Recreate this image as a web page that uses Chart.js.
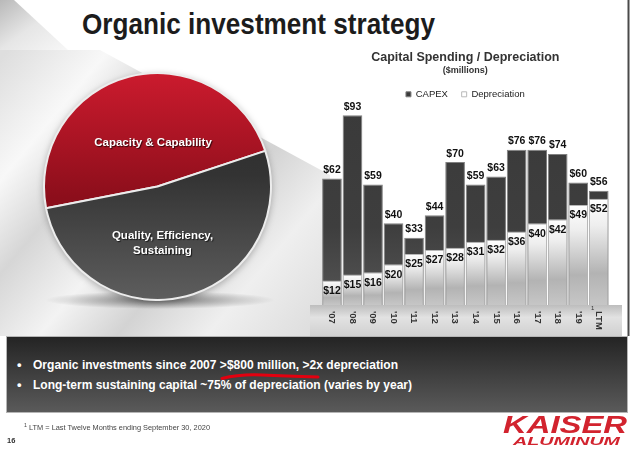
<!DOCTYPE html>
<html><head><meta charset="utf-8">
<script src="https://cdn.jsdelivr.net/npm/chart.js@4.4.1/dist/chart.umd.min.js"></script>
<style>
html,body{margin:0;padding:0;}
body{width:640px;height:454px;position:relative;overflow:hidden;background:#fff;font-family:"Liberation Sans",Arial,sans-serif;}
.abs{position:absolute;white-space:nowrap;}
.fit{display:inline-block;transform-origin:left top;}
</style></head><body>
<svg class="abs" style="left:0;top:0" width="640" height="454">
  <defs>
    <linearGradient id="corner" x1="0" y1="0" x2="1" y2="1">
      <stop offset="0" stop-color="#b9b9b9"/><stop offset="0.5" stop-color="#e6e6e6"/><stop offset="1" stop-color="#f7f7f7"/>
    </linearGradient>
    <linearGradient id="ribbon" gradientUnits="userSpaceOnUse" x1="0" y1="60" x2="330" y2="335">
      <stop offset="0" stop-color="#dedede"/><stop offset="0.18" stop-color="#f8f8f8"/><stop offset="0.32" stop-color="#d6d6d6"/>
      <stop offset="0.48" stop-color="#f3f3f3"/><stop offset="0.62" stop-color="#d3d3d3"/><stop offset="0.78" stop-color="#efefef"/><stop offset="1" stop-color="#dadada"/>
    </linearGradient>
    <radialGradient id="pieShadow" cx="0.5" cy="0.5" r="0.5">
      <stop offset="0" stop-color="rgba(0,0,0,0.45)"/><stop offset="1" stop-color="rgba(0,0,0,0)"/>
    </radialGradient>
    <linearGradient id="floor" x1="0" y1="0" x2="0" y2="1">
      <stop offset="0" stop-color="#bdbdbd"/><stop offset="0.4" stop-color="#e2e2e2"/><stop offset="1" stop-color="#d0d0d0"/>
    </linearGradient>
  </defs>
  <polygon points="0,0 14,0 68,50 0,50" fill="url(#corner)"/>
  <polygon points="0,50 100,50 330,175 330,336 0,336" fill="url(#ribbon)"/>
  <rect x="310" y="305" width="312" height="31" fill="url(#floor)"/>
  <ellipse cx="160" cy="300" rx="115" ry="9" fill="url(#pieShadow)"/>
  <line x1="628.5" y1="0" x2="628.5" y2="336" stroke="#4a4a4a" stroke-width="2"/>
  <rect x="6.5" y="336.5" width="621" height="76" fill="#3a3a3a" stroke="#b5b5b5"/>
</svg>
<div class="abs" style="left:6px;top:336px;width:622px;height:77px;background:linear-gradient(#242424,#5a5a5a);border:1px solid #b5b5b5;box-sizing:border-box"></div>

<div class="abs" style="left:82px;top:9px;font-size:30px;line-height:30px;font-weight:bold;color:#1c1c1c"><span class="fit" data-w="353">Organic investment strategy</span></div>

<canvas id="pie" class="abs" width="229" height="229" style="left:43px;top:72px;filter:drop-shadow(0 2px 3px rgba(0,0,0,0.25))"></canvas>
<canvas id="bars" class="abs" width="328" height="300" style="left:312px;top:40px"></canvas>

<div class="abs" style="left:17px;top:357px;font-size:13px;line-height:16px;color:#fff;font-weight:bold">•</div>
<div class="abs" style="left:33px;top:357px;font-size:13px;line-height:16px;color:#fff;font-weight:bold"><span class="fit" data-w="365">Organic investments since 2007 &gt;$800 million, &gt;2x depreciation</span></div>
<div class="abs" style="left:17px;top:377px;font-size:13px;line-height:16px;color:#fff;font-weight:bold">•</div>
<div class="abs" style="left:33px;top:377px;font-size:13px;line-height:16px;color:#fff;font-weight:bold"><span class="fit" data-w="379">Long-term sustaining capital ~75% of depreciation (varies by year)</span></div>
<svg class="abs" style="left:0;top:0" width="640" height="454"><path d="M222,378.5 Q240,374 262,375 T318,377" fill="none" stroke="#e3000f" stroke-width="3" stroke-linecap="round"/></svg>

<div class="abs" style="left:24px;top:421px;font-size:7px;line-height:8px;color:#444"><span class="fit" data-w="186"><sup style="font-size:5px">1</sup> LTM = Last Twelve Months ending September 30, 2020</span></div>
<div class="abs" style="left:7px;top:437px;font-size:7.5px;line-height:8px;color:#333;font-weight:bold">16</div>

<div class="abs" style="left:503px;top:413px;font-size:24px;line-height:24px;color:#d2232e;font-weight:bold;font-style:italic"><span class="fit" data-w="124">KAISER</span></div>
<div class="abs" style="left:513px;top:437px;font-size:10px;line-height:10px;color:#d2232e;font-weight:bold;font-style:italic"><span class="fit" data-w="107">ALUMINUM</span></div>

<script>
// ---- data ----
const pieLabels = ['Capacity & Capability', 'Quality, Efficiency, Sustaining'];
const pieValues = [48, 52];
const years = ["'07", "'08", "'09", "'10", "'11", "'12", "'13", "'14", "'15", "'16", "'17", "'18", "'19", "LTM"];
const capex = [62, 93, 59, 40, 33, 44, 70, 59, 63, 76, 76, 74, 60, 56];
const depreciation = [12, 15, 16, 20, 25, 27, 28, 31, 32, 36, 40, 42, 49, 52];
const seriesNames = ['CAPEX', 'Depreciation'];

document.querySelectorAll('.fit').forEach(el => {
  const w = +el.dataset.w;
  const r = w / el.getBoundingClientRect().width;
  el.style.transform = 'scaleX(' + r + ')';
});

const FONT = '"Liberation Sans", Arial, sans-serif';

// ---- pie ----
function pieFill(c) {
  const ch = c.chart, a = ch.chartArea;
  if (!a) return c.dataIndex === 0 ? '#b0182a' : '#444';
  const g = ch.ctx.createLinearGradient(0, a.top, 0, a.bottom);
  if (c.dataIndex === 0) {
    g.addColorStop(0, '#cc1b2e'); g.addColorStop(0.55, '#8c0e1b'); g.addColorStop(1, '#7a0c17');
  } else {
    g.addColorStop(0, '#2a2a2a'); g.addColorStop(0.45, '#333333'); g.addColorStop(1, '#5e5e5e');
  }
  return g;
}
const pieText = {
  id: 'pieText',
  afterDatasetsDraw(chart) {
    const arc = chart.getDatasetMeta(0).data[0];
    const ctx = chart.ctx;
    ctx.save();
    ctx.font = 'bold 11.5px ' + FONT;
    ctx.fillStyle = '#fff';
    ctx.textAlign = 'center';
    ctx.textBaseline = 'middle';
    ctx.shadowColor = 'rgba(0,0,0,0.7)';
    ctx.shadowOffsetX = 1; ctx.shadowOffsetY = 1; ctx.shadowBlur = 1;
    ctx.fillText(pieLabels[0], arc.x - 4.5, arc.y - 44);
    ctx.fillText('Quality, Efficiency,', arc.x + 5, arc.y + 49);
    ctx.fillText('Sustaining', arc.x + 5, arc.y + 64);
    ctx.restore();
  }
};
new Chart(document.getElementById('pie'), {
  type: 'pie',
  data: { labels: pieLabels, datasets: [{ data: pieValues, backgroundColor: pieFill, borderColor: '#ececec', borderWidth: 2 }] },
  options: {
    responsive: false, animation: false, devicePixelRatio: 1,
    rotation: 258.9,
    layout: { padding: 0 },
    plugins: { legend: { display: false }, tooltip: { enabled: false } }
  },
  plugins: [pieText]
});

// ---- bars ----
function capexFill(c) {
  if (c.type !== 'data') return '#3c3c3c';
  const ch = c.chart, a = ch.chartArea;
  if (!a) return '#3c3c3c';
  const g = ch.ctx.createLinearGradient(0, a.top, 0, a.bottom);
  g.addColorStop(0, '#3a3a3a'); g.addColorStop(0.6, '#3e3e3e'); g.addColorStop(1, '#555555');
  return g;
}
function depFill(c) {
  if (c.type !== 'data') return '#d0d0d0';
  const ch = c.chart;
  if (!ch.chartArea) return '#d0d0d0';
  const y = ch.scales.y;
  const top = y.getPixelForValue(c.raw), base = y.getPixelForValue(0);
  const g = ch.ctx.createLinearGradient(0, top, 0, base + 0.01);
  g.addColorStop(0, '#ffffff'); g.addColorStop(0.25, '#eeeeee'); g.addColorStop(0.7, '#b3b3b3'); g.addColorStop(1, '#c6c6c6');
  return g;
}
const barText = {
  id: 'barText',
  afterDatasetsDraw(chart) {
    const ctx = chart.ctx;
    const mc = chart.getDatasetMeta(0), md = chart.getDatasetMeta(1);
    ctx.save();
    ctx.font = 'bold 10.5px ' + FONT;
    ctx.fillStyle = '#111';
    ctx.textAlign = 'center';
    ctx.textBaseline = 'middle';
    mc.data.forEach((b, i) => ctx.fillText('$' + capex[i], b.x, b.y - 8.5));
    md.data.forEach((b, i) => ctx.fillText('$' + depreciation[i], b.x, b.y + 10.5));
    // category labels, rotated clockwise
    const xs = chart.scales.x, base = chart.chartArea.bottom;
    ctx.font = 'bold 9.5px ' + FONT;
    ctx.fillStyle = '#333';
    ctx.textAlign = 'left';
    years.forEach((lab, i) => {
      const x = xs.getPixelForValue(i);
      ctx.save();
      ctx.translate(x, base + 6);
      ctx.rotate(Math.PI / 2);
      ctx.fillText(lab, 0, 0);
      ctx.restore();
      if (lab === 'LTM') {
        ctx.save();
        ctx.font = '6px ' + FONT;
        ctx.textAlign = 'center';
        ctx.fillText('1', x - 6, base + 3);
        ctx.restore();
      }
    });
    ctx.restore();
  }
};
new Chart(document.getElementById('bars'), {
  type: 'bar',
  data: {
    labels: years,
    datasets: [
      { label: seriesNames[0], data: capex, backgroundColor: capexFill, borderColor: '#808080', borderWidth: 1, grouped: false, order: 2, barPercentage: 0.96, categoryPercentage: 1 },
      { label: seriesNames[1], data: depreciation, backgroundColor: depFill, borderColor: '#b8b8b8', borderWidth: 1, grouped: false, order: 1, barPercentage: 0.96, categoryPercentage: 1 }
    ]
  },
  options: {
    responsive: false, animation: false, devicePixelRatio: 1,
    layout: { padding: { left: 9.7, right: 31, top: 0, bottom: 35 } },
    scales: {
      x: { display: false },
      y: { display: false, min: 0, max: 96 }
    },
    plugins: {
      tooltip: { enabled: false },
      title: { display: true, text: 'Capital Spending / Depreciation', color: '#333', font: { family: FONT, size: 12.5, weight: 'bold' }, padding: { top: 10, bottom: 0 } },
      subtitle: { display: true, text: '($millions)', color: '#333', font: { family: FONT, size: 9, weight: 'bold' }, padding: { top: 0, bottom: 0 } },
      legend: {
        labels: { boxWidth: 5, boxHeight: 5, color: '#222', font: { family: FONT, size: 9.5 }, padding: 13.75,
          sort: (a, b) => a.datasetIndex - b.datasetIndex }
      }
    }
  },
  plugins: [barText]
});
</script>
</body></html>
